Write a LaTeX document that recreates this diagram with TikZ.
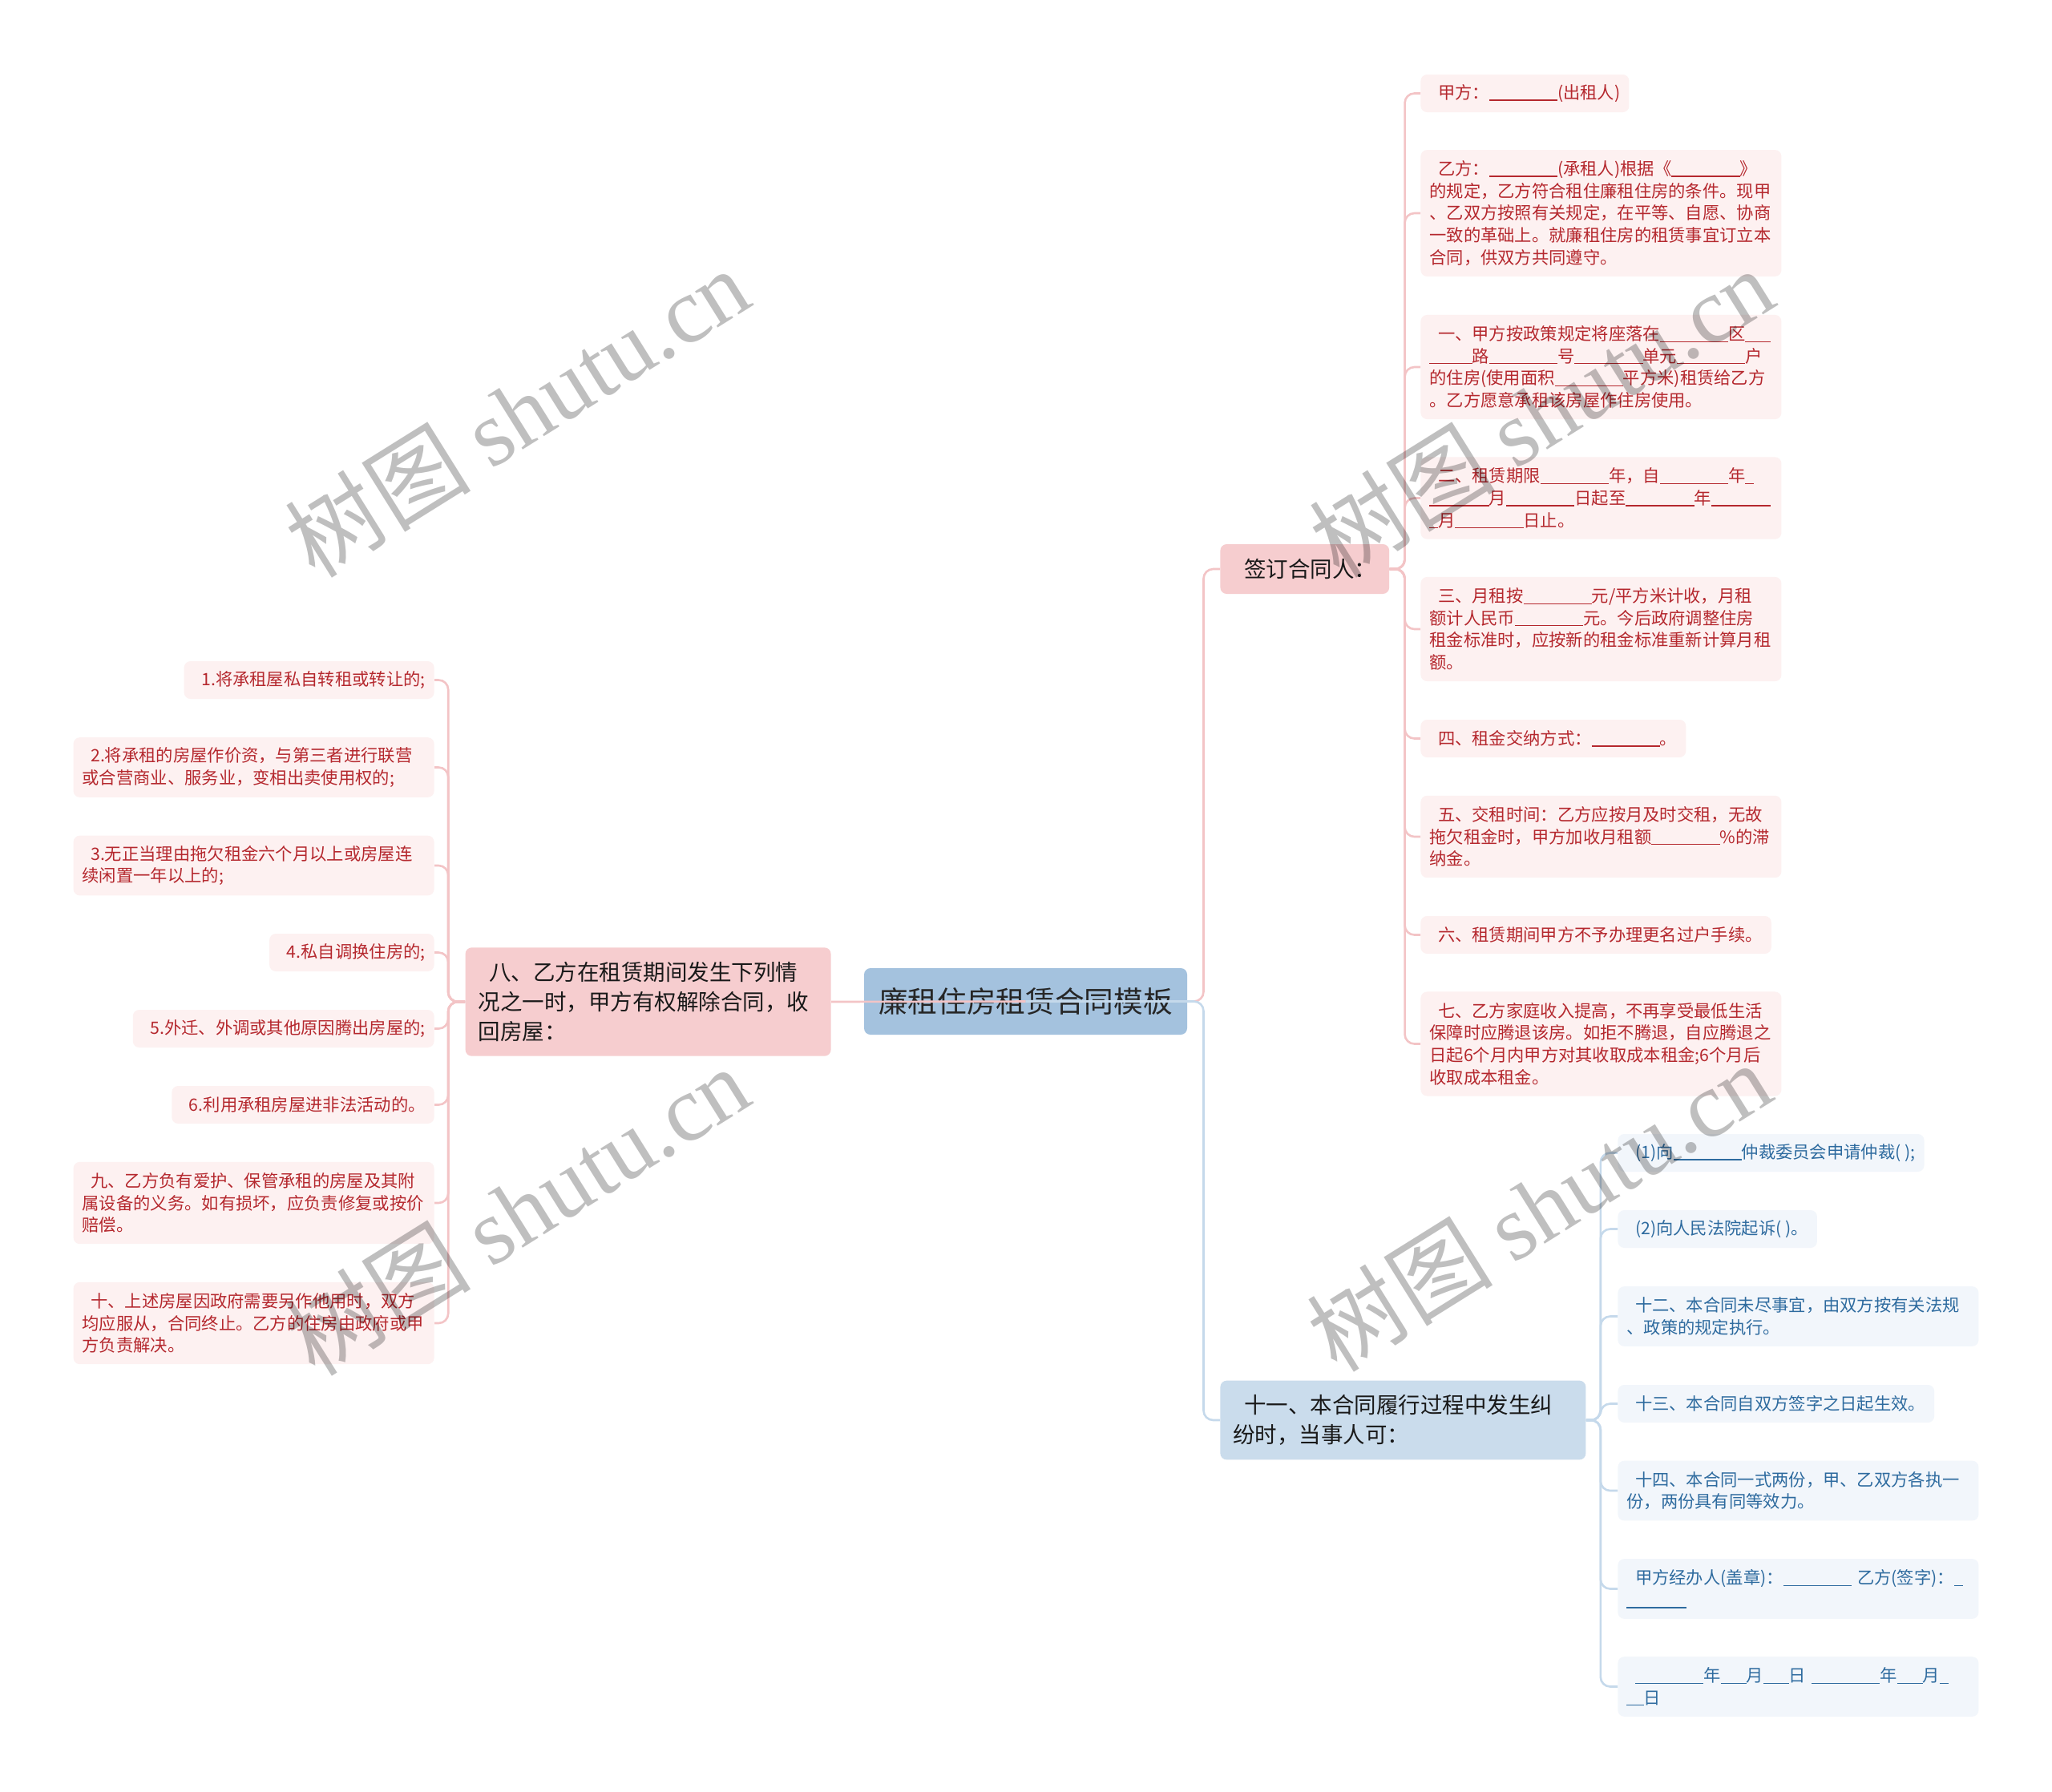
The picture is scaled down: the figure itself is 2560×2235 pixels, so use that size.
\documentclass[tikz,border=0pt]{standalone}
\usepackage{fontspec}
\setmainfont{Noto Sans CJK SC}
\newfontfamily\wmlatin{Liberation Serif}
\usetikzlibrary{positioning}

\definecolor{rootfill}{HTML}{A4C2DE}
\definecolor{redmainfill}{HTML}{F6CDCF}
\definecolor{bluemainfill}{HTML}{CADCEC}
\definecolor{redleaffill}{HTML}{FDF1F1}
\definecolor{blueleaffill}{HTML}{F2F6FB}
\definecolor{redtext}{HTML}{B5282E}
\definecolor{bluetext}{HTML}{2E6B9F}
\definecolor{redwire}{HTML}{F3C4C6}
\definecolor{bluewire}{HTML}{C5D9EB}

% one underscore cell, drawn as a rule
\newcommand{\us}{\rule[-0.1em]{0.5em}{0.055em}}
\newcommand{\blank}{\us\us\us\us\us\us\us\us}
\newcommand{\ind}{\hspace*{0.5em}}

\begin{document}
\begin{tikzpicture}
    [x=0.5pt, y=-0.5pt, every node/.style={align=left, rounded
      corners=4pt, inner ysep=2pt},
    root/.style={fill=rootfill, text=black!85, inner xsep=9pt,
      font=\fontsize{18.35}{22}\selectfont, minimum height=41.5pt},
    main/.style={font=\fontsize{13.75}{18.35}\selectfont, inner xsep=8pt,
      text=black!90, minimum height={31pt+18.35pt*(#1-1)}},
    redmain/.style={main=#1, fill=redmainfill},
    bluemain/.style={main=#1, fill=bluemainfill},
    leaf/.style={font=\fontsize{10.65}{13.85}\selectfont, inner xsep=5.5pt,
      minimum height={23.5pt+13.85pt*(#1-1)}},
    redleaf/.style={leaf=#1, fill=redleaffill, text=redtext},
    blueleaf/.style={leaf=#1, fill=blueleaffill, text=bluetext},
    wide/.style={text width=214pt},
    redline/.style={draw=redwire, line width=1.3pt, rounded corners=6pt},
    blueline/.style={draw=bluewire, line width=1.3pt, rounded corners=6pt},
    wm/.style={rotate=32, inner sep=0pt, text=black, text opacity=0.25,
      font=\fontsize{58}{60}\selectfont}]

    \useasboundingbox[fill=white] (0,0) rectangle (2560,2235);

    \node (root) [root] at (1279.5,1249.5) {廉租住房租赁合同模板};

    % left branch
    \node (n8) [redmain=3, text width=212pt, anchor=east] at (1037,1250)
    {\ind 八、乙方在租赁期间发生下列情\\
      况之一时，甲方有权解除合同，收\\
      回房屋：};
    \node (la) [redleaf=1, anchor=east] at (542,848.5)
    {\ind 1.将承租屋私自转租或转让的;};
    \node (lb) [redleaf=2, wide, anchor=east] at (542,957.5)
    {\ind 2.将承租的房屋作价资，与第三者进行联营\\
      或合营商业、服务业，变相出卖使用权的;};
    \node (lc) [redleaf=2, wide, anchor=east] at (542,1080)
    {\ind 3.无正当理由拖欠租金六个月以上或房屋连\\
      续闲置一年以上的;};
    \node (ld) [redleaf=1, anchor=east] at (542,1188.5)
    {\ind 4.私自调换住房的;};
    \node (le) [redleaf=1, anchor=east] at (542,1283.5)
    {\ind 5.外迁、外调或其他原因腾出房屋的;};
    \node (lf) [redleaf=1, anchor=east] at (542,1378.5)
    {\ind 6.利用承租房屋进非法活动的。};
    \node (lg) [redleaf=3, wide, anchor=east] at (542,1501)
    {\ind 九、乙方负有爱护、保管承租的房屋及其附\\
      属设备的义务。如有损坏，应负责修复或按价\\
      赔偿。};
    \node (lh) [redleaf=3, wide, anchor=east] at (542,1651)
    {\ind 十、上述房屋因政府需要另作他用时，双方\\
      均应服从，合同终止。乙方的住房由政府或甲\\
      方负责解决。};

    % right upper branch
    \node (sign) [redmain=1, anchor=west] at (1522,710)
    {\ind 签订合同人：};
    \node (ra) [redleaf=1, anchor=west] at (1772,116.5)
    {\ind 甲方：\blank(出租人)};
    \node (rb) [redleaf=5, wide, anchor=west] at (1772,266)
    {\ind 乙方：\blank(承租人)根据《\blank》\\
      的规定，乙方符合租住廉租住房的条件。现甲\\
      、乙双方按照有关规定，在平等、自愿、协商\\
      一致的革础上。就廉租住房的租赁事宜订立本\\
      合同，供双方共同遵守。};
    \node (rc) [redleaf=4, wide, anchor=west] at (1772,458)
    {\ind 一、甲方按政策规定将座落在\blank 区\us\us\us\\
      \us\us\us\us\us 路\blank 号\blank 单元\blank 户\\
      的住房(使用面积\blank 平方米)租赁给乙方\\
      。乙方愿意承租该房屋作住房使用。};
    \node (rd) [redleaf=3, wide, anchor=west] at (1772,621.5)
    {\ind 二、租赁期限\blank 年，自\blank 年\us\\
      \us\us\us\us\us\us\us 月\blank 日起至\blank 年\us\us\us\us\us\us\us\\
      \us 月\blank 日止。};
    \node (re) [redleaf=4, wide, anchor=west] at (1772,785)
    {\ind 三、月租按\blank 元/平方米计收，月租\\
      额计人民币\blank 元。今后政府调整住房\\
      租金标准时，应按新的租金标准重新计算月租\\
      额。};
    \node (rf) [redleaf=1, anchor=west] at (1772,921.5)
    {\ind 四、租金交纳方式：\blank 。};
    \node (rg) [redleaf=3, wide, anchor=west] at (1772,1044)
    {\ind 五、交租时间：乙方应按月及时交租，无故\\
      拖欠租金时，甲方加收月租额\blank\%的滞\\
      纳金。};
    \node (rh) [redleaf=1, anchor=west] at (1772,1166.5)
    {\ind 六、租赁期间甲方不予办理更名过户手续。};
    \node (ri) [redleaf=4, wide, anchor=west] at (1772,1302.5)
    {\ind 七、乙方家庭收入提高，不再享受最低生活\\
      保障时应腾退该房。如拒不腾退，自应腾退之\\
      日起6个月内甲方对其收取成本租金;6个月后\\
      收取成本租金。};

    % right lower branch
    \node (n11) [bluemain=2, text width=212pt, anchor=west] at (1522,1772)
    {\ind 十一、本合同履行过程中发生纠\\
      纷时，当事人可：};
    \node (ba) [blueleaf=1, anchor=west] at (2018,1438.5)
    {\ind (1)向\blank 仲裁委员会申请仲裁( );};
    \node (bb) [blueleaf=1, anchor=west] at (2018,1533.5)
    {\ind (2)向人民法院起诉( )。};
    \node (bc) [blueleaf=2, wide, anchor=west] at (2018,1642.5)
    {\ind 十二、本合同未尽事宜，由双方按有关法规\\
      、政策的规定执行。};
    \node (bd) [blueleaf=1, anchor=west] at (2018,1751.5)
    {\ind 十三、本合同自双方签字之日起生效。};
    \node (be) [blueleaf=2, wide, anchor=west] at (2018,1860)
    {\ind 十四、本合同一式两份，甲、乙双方各执一\\
      份，两份具有同等效力。};
    \node (bf) [blueleaf=2, wide, anchor=west] at (2018,1982.5)
    {\ind 甲方经办人(盖章)：\blank~乙方(签字)：\us\\
      \us\us\us\us\us\us\us};
    \node (bg) [blueleaf=2, wide, anchor=west] at (2018,2104.5)
    {\ind \blank 年\us\us\us 月\us\us\us 日~\blank 年\us\us\us 月\us\\
      \us\us 日};

    % connectors
    \draw[redline] (root.center) -- (n8.east);
    \draw[redline] (root.center) -- ++(222,0) |- (sign.west);
    \draw[blueline] (root.center) -- ++(222,0) |- (n11.west);
    \foreach \l in {la,lb,lc,ld,le,lf,lg,lh}
      \draw[redline] (n8.west) -- ++(-21,0) |- (\l.east);
    \foreach \r in {ra,rb,rc,rd,re,rf,rg,rh,ri}
      \draw[redline] (sign.east) -- ++(19,0) |- (\r.west);
    \foreach \b in {ba,bb,bc,bd,be,bf,bg}
      \draw[blueline] (n11.east) -- ++(18,0) |- (\b.west);

    % watermarks
    \foreach \p [count=\i] in {(645,514),(1923,514),(645,1510),(1920,1505)}
      \node (wm\i) [wm] at \p {树图 {\wmlatin shutu.cn}};
  \end{tikzpicture}
\end{document}
